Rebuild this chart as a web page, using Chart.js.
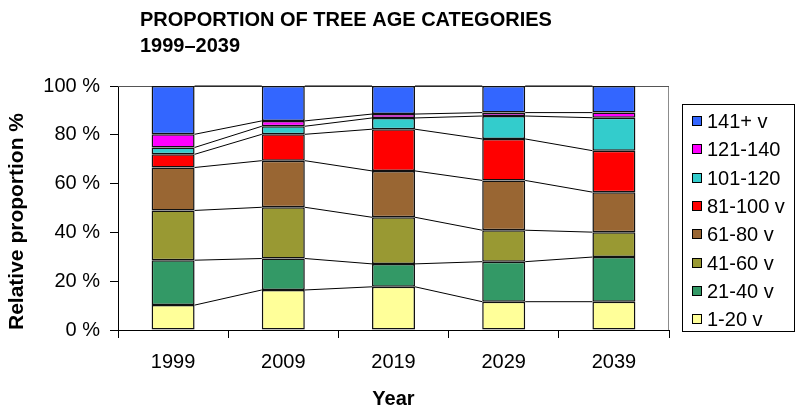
<!DOCTYPE html>
<html>
<head>
<meta charset="utf-8">
<title>Proportion of tree age categories 1999–2039</title>
<script src="https://cdn.jsdelivr.net/npm/chart.js@4/dist/chart.umd.min.js"></script>
<style>
  html, body { margin: 0; padding: 0; background: #fff; }
  #wrap { position: relative; width: 795px; height: 412px; }
</style>
</head>
<body>
<div id="wrap"><canvas id="chart"></canvas></div>
<script>
// Survey years
const years = ['1999', '2009', '2019', '2029', '2039'];

// Share of trees (%) in each age class, one array per class, bottom of the stack first
const age1to20   = [10.2, 16.4, 17.7, 11.6, 11.6];
const age21to40  = [18.4, 12.9,  9.4, 16.4, 18.3];
const age41to60  = [20.4, 21.0, 19.1, 12.9, 10.2];
const age61to80  = [17.6, 19.1, 19.0, 20.4, 16.4];
const age81to100 = [ 5.4, 10.8, 17.1, 17.0, 17.0];
const age101to120 = [2.8,  3.3,  4.6,  9.4, 13.5];
const age121to140 = [5.4,  2.2,  1.6,  1.4,  2.1];
const age141plus = [19.8, 14.3, 11.5, 10.9, 10.9];

const classLabels = ['1-20 v', '21-40 v', '41-60 v', '61-80 v', '81-100 v', '101-120', '121-140', '141+ v'];
const classValues = [age1to20, age21to40, age41to60, age61to80, age81to100, age101to120, age121to140, age141plus];
const classColors = ['#FFFF99', '#339966', '#999933', '#996633', '#FF0000', '#33CCCC', '#FF00FF', '#3366FF'];

// Value axis
const yMin = 0, yMax = 100, yStep = 20;
const yTickSuffix = ' %';

const headingLines = ['PROPORTION OF TREE AGE CATEGORIES', '1999–2039'];
const xTitle = 'Year';
const yTitle = 'Relative proportion %';

const FONT = "'Liberation Sans', Arial, Helvetica, sans-serif";
Chart.defaults.font.family = FONT;
Chart.defaults.font.size = 20;
Chart.defaults.color = '#000';

// Two-line heading above the plot
const heading = {
  id: 'heading',
  afterDraw(chart) {
    const ctx = chart.ctx;
    ctx.save();
    ctx.fillStyle = '#000';
    ctx.font = 'bold 20px ' + FONT;
    ctx.textAlign = 'left';
    ctx.textBaseline = 'alphabetic';
    ctx.fillText(headingLines[0], 140, 26);
    ctx.fillText(headingLines[1], 140, 52);
    ctx.restore();
  }
};

// Frame on the top and right of the plot area
const plotFrame = {
  id: 'plotFrame',
  beforeDatasetsDraw(chart) {
    const {ctx, chartArea: a} = chart;
    ctx.save();
    ctx.lineWidth = 1;
    ctx.strokeStyle = '#555';
    ctx.beginPath();
    ctx.moveTo(a.left, Math.round(a.top) + 0.5);
    ctx.lineTo(Math.round(a.right), Math.round(a.top) + 0.5);
    ctx.stroke();
    ctx.strokeStyle = '#8c8c8c';
    ctx.beginPath();
    ctx.moveTo(Math.round(a.right) - 0.5, Math.round(a.top) + 1);
    ctx.lineTo(Math.round(a.right) - 0.5, a.bottom);
    ctx.stroke();
    ctx.restore();
  }
};

// Series lines joining the top of each segment to the same segment in the next bar
const seriesLines = {
  id: 'seriesLines',
  afterDatasetsDraw(chart) {
    const ctx = chart.ctx;
    ctx.save();
    ctx.strokeStyle = '#000';
    ctx.lineWidth = 1;
    chart.data.datasets.forEach((ds, i) => {
      const bars = chart.getDatasetMeta(i).data;
      ctx.beginPath();
      for (let k = 0; k < bars.length - 1; k++) {
        const a = bars[k].getProps(['x', 'y', 'width'], true);
        const b = bars[k + 1].getProps(['x', 'y', 'width'], true);
        ctx.moveTo(a.x + a.width / 2, a.y);
        ctx.lineTo(b.x - b.width / 2, b.y);
      }
      ctx.stroke();
    });
    ctx.restore();
  }
};

// Framed legend to the right, highest age class on top
const boxedLegend = {
  id: 'boxedLegend',
  afterDraw(chart) {
    const ctx = chart.ctx;
    const box = {left: 682, top: 104, width: 112, height: 227};
    const firstRow = 121, rowStep = 28.3, swatch = 10, swatchX = 692, textX = 707;
    ctx.save();
    ctx.strokeStyle = '#000';
    ctx.lineWidth = 1;
    ctx.strokeRect(box.left + 0.5, box.top + 0.5, box.width, box.height);
    ctx.font = '20px ' + FONT;
    ctx.textAlign = 'left';
    ctx.textBaseline = 'middle';
    const items = chart.data.datasets.map(ds => ({label: ds.label, color: ds.backgroundColor})).reverse();
    items.forEach((it, r) => {
      const cy = Math.round(firstRow + r * rowStep);
      ctx.fillStyle = it.color;
      ctx.fillRect(swatchX, cy - swatch / 2, swatch, swatch);
      ctx.strokeStyle = '#000';
      ctx.strokeRect(swatchX + 0.5, cy - swatch / 2 + 0.5, swatch - 1, swatch - 1);
      ctx.fillStyle = '#000';
      ctx.fillText(it.label, textX, cy + 1);
    });
    ctx.restore();
  }
};

new Chart(document.getElementById('chart'), {
  type: 'bar',
  data: {
    labels: years,
    datasets: classLabels.map((label, i) => ({
      label,
      data: classValues[i],
      backgroundColor: classColors[i],
      borderColor: '#111',
      borderWidth: 1.5,
      borderSkipped: false,
      inflateAmount: 0,
      barPercentage: 0.39,
      categoryPercentage: 1.0
    }))
  },
  options: {
    responsive: true,
    maintainAspectRatio: false,
    animation: false,
    layout: { padding: { top: 86, right: 126, bottom: 0, left: 0 } },
    plugins: {
      legend: { display: false },
      title: { display: false },
      tooltip: { enabled: false }
    },
    scales: {
      x: {
        stacked: true,
        afterFit(scale) { scale.height = 82; },
        grid: { offset: true, drawOnChartArea: false, drawTicks: true, tickLength: 8, color: '#000' },
        border: { display: true, color: '#000', width: 1 },
        ticks: { padding: 12, font: { size: 20 }, color: '#000' },
        title: { display: true, text: xTitle, font: { size: 20, weight: 'bold' }, color: '#000', padding: { top: 0, bottom: 1 } }
      },
      y: {
        stacked: true,
        min: yMin,
        max: yMax,
        afterFit(scale) { scale.width = 118; },
        grid: { drawOnChartArea: false, drawTicks: true, tickLength: 8, color: '#000' },
        border: { display: true, color: '#000', width: 1 },
        ticks: {
          stepSize: yStep,
          padding: 10,
          font: { size: 20 },
          color: '#000',
          callback: v => v + yTickSuffix
        },
        title: { display: true, text: yTitle, align: 'start', font: { size: 21, weight: 'bold' }, color: '#000', padding: { top: 5, bottom: 0 } }
      }
    }
  },
  plugins: [plotFrame, seriesLines, heading, boxedLegend]
});
</script>
</body>
</html>
